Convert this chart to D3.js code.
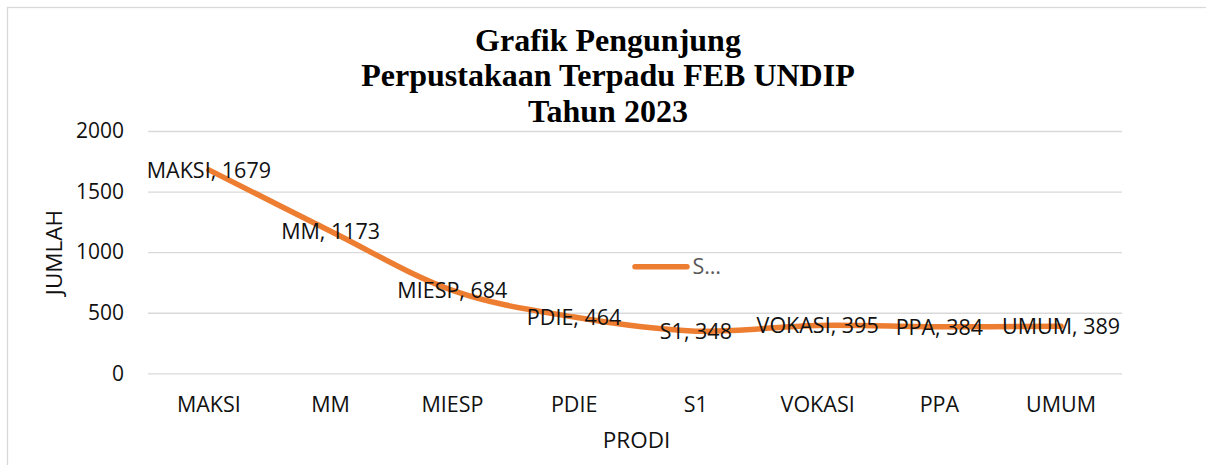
<!DOCTYPE html>
<html>
<head>
<meta charset="utf-8">
<script src="https://cdn.jsdelivr.net/npm/d3@7"></script>
<style>
  html, body { margin: 0; padding: 0; background: #fff; }
  svg { display: block; }
  text { font-family: "Open Sans", sans-serif; }
</style>
</head>
<body>
<svg id="chart" width="1206" height="465"></svg>
<script>
// ---- data ----
const categories = ["MAKSI", "MM", "MIESP", "PDIE", "S1", "VOKASI", "PPA", "UMUM"];
const values = [1679, 1173, 684, 464, 348, 395, 384, 389];
const yTicks = [0, 500, 1000, 1500, 2000];
const titleLines = ["Grafik Pengunjung", "Perpustakaan Terpadu FEB UNDIP", "Tahun 2023"];
const seriesName = "S…";
const xTitle = "PRODI";
const yTitle = "JUMLAH";

(function () {
// ---- layout ----
const svg = d3.select("#chart");
const plotLeft = 148, plotRight = 1122, plotTop = 131, plotBottom = 373.3;
const lineColor = "#ED7D31";
const gridColor = "#D9D9D9";

// frame
svg.append("rect")
  .attr("x", 7.5).attr("y", 7.5)
  .attr("width", 1206).attr("height", 470)
  .attr("fill", "none").attr("stroke", gridColor).attr("stroke-width", 1.3);

const x = d3.scaleBand().domain(categories).range([plotLeft, plotRight]).paddingInner(0).paddingOuter(0);
const y = d3.scaleLinear().domain([0, 2000]).range([plotBottom, plotTop]);
const cx = d => x(d) + x.bandwidth() / 2;

// y axis + gridlines
const yAxis = svg.append("g")
  .attr("transform", `translate(${plotLeft},0)`)
  .call(d3.axisLeft(y).tickValues(yTicks).tickSize(-(plotRight - plotLeft)).tickPadding(24).tickFormat(d3.format("d")));
yAxis.select(".domain").remove();
yAxis.selectAll(".tick line").attr("stroke", gridColor).attr("stroke-width", 1.3);
yAxis.selectAll(".tick text")
  .attr("font-family", "Open Sans").attr("font-size", 21).attr("fill", "#111");

// x axis
const xAxis = svg.append("g")
  .attr("transform", `translate(0,${plotBottom})`)
  .call(d3.axisBottom(x).tickSize(0).tickPadding(23));
xAxis.select(".domain").remove();
xAxis.selectAll(".tick text")
  .attr("font-family", "Open Sans").attr("font-size", 21.5).attr("fill", "#111");

// line
const line = d3.line()
  .x((d, i) => cx(categories[i]))
  .y(d => y(d))
  .curve(d3.curveCardinal.tension(0));
svg.append("path")
  .datum(values)
  .attr("d", line)
  .attr("fill", "none")
  .attr("stroke", lineColor)
  .attr("stroke-width", 5.5)
  .attr("stroke-linecap", "round")
  .attr("stroke-linejoin", "round");

// data labels
svg.append("g").selectAll("text")
  .data(values)
  .join("text")
  .attr("x", (d, i) => cx(categories[i]))
  .attr("y", d => y(d))
  .attr("dy", "0.36em")
  .attr("text-anchor", "middle")
  .attr("font-size", 21.5)
  .attr("fill", "#111")
  .text((d, i) => `${categories[i]}, ${d}`);

// legend
svg.append("line")
  .attr("x1", 635).attr("x2", 687).attr("y1", 266.7).attr("y2", 266.7)
  .attr("stroke", lineColor).attr("stroke-width", 5.5).attr("stroke-linecap", "round");
svg.append("text")
  .attr("x", 692.5).attr("y", 266.7).attr("dy", "0.36em")
  .attr("font-size", 21.5).attr("fill", "#595959")
  .text(seriesName);

// title
svg.append("g").selectAll("text")
  .data(titleLines)
  .join("text")
  .attr("x", 608)
  .attr("y", (d, i) => 50.5 + i * 35.7)
  .attr("text-anchor", "middle")
  .style("font-family", "'Liberation Serif', 'Times New Roman', serif")
  .attr("font-weight", "bold")
  .attr("font-size", 32)
  .attr("fill", "#000")
  .text(d => d);

// axis titles
svg.append("text")
  .attr("x", 636.5).attr("y", 448)
  .attr("text-anchor", "middle")
  .attr("font-size", 22.5).attr("fill", "#111")
  .text(xTitle);
svg.append("text")
  .attr("transform", "translate(62,252.5) rotate(-90)")
  .attr("text-anchor", "middle")
  .attr("font-size", 22.5).attr("fill", "#111")
  .text(yTitle);
})();
</script>
</body>
</html>
